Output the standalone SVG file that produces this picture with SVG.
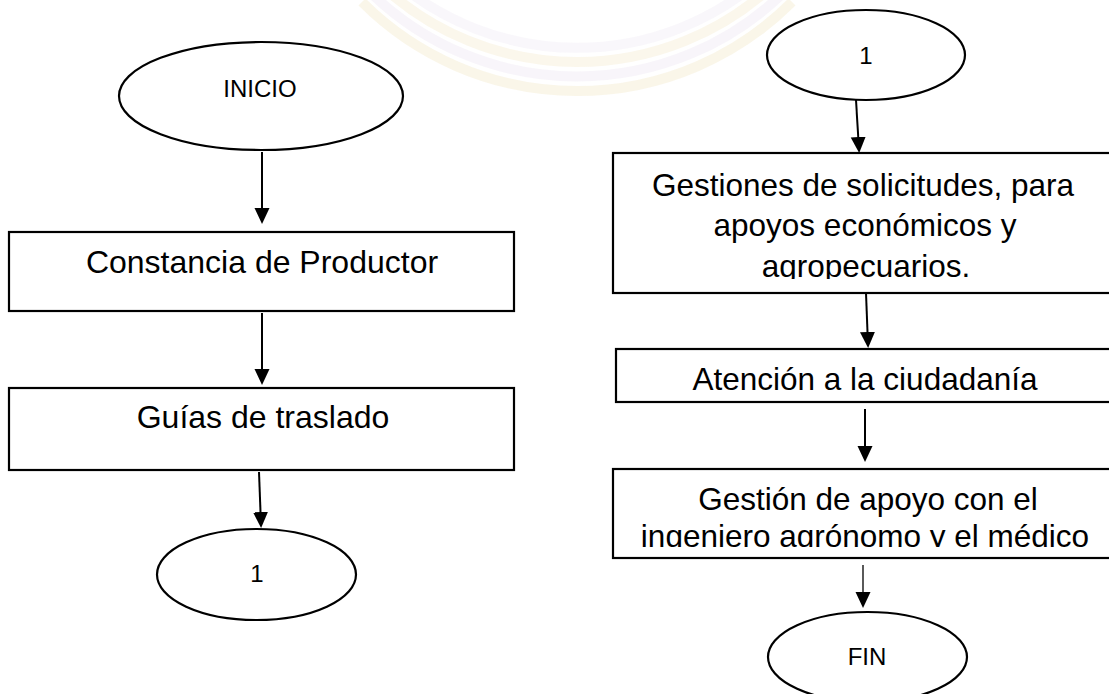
<svg xmlns="http://www.w3.org/2000/svg" width="1109" height="694" viewBox="0 0 1109 694">
<style>
.box{fill:#fff;stroke:#000;stroke-width:2.2}
.term{fill:#fff;stroke:#000;stroke-width:2.2}
.t{font-family:"Liberation Sans",Arial,sans-serif;fill:#000;text-anchor:middle}
.big{font-size:32px}
.rt{font-size:31.5px}
.sm{font-size:24px}
.conn{stroke:#000;stroke-width:2;fill:none;marker-end:url(#ah)}
.thin{stroke-width:1.3}
.wm{fill:none;stroke-width:10;opacity:0.22}
</style>
<defs>
<marker id="ah" markerUnits="userSpaceOnUse" markerWidth="16" markerHeight="16" viewBox="0 0 16 16" refX="13" refY="8" orient="auto">
<path d="M0,0.5 L16,8 L0,15.5 z" fill="#000"/>
</marker>
<clipPath id="c1"><rect x="613" y="153" width="500" height="126"/></clipPath>
<clipPath id="c2"><rect x="613" y="469" width="500" height="78"/></clipPath>
</defs>
<rect width="1109" height="694" fill="#fff"/>
<g id="watermark">
<path class="wm" d="M362,2 A304,304 0 0 0 792,2" stroke="#e8d59a"/>
<path class="wm" d="M372,-6 A296,296 0 0 0 782,-6" stroke="#ddd3ea"/>
<path class="wm" d="M382,-14 A288,288 0 0 0 772,-14" stroke="#ecdca8"/>
<path class="wm" d="M392,-22 A280,280 0 0 0 762,-22" stroke="#e3dcec"/>
</g>
<g id="connectors">
<line class="conn" x1="262" y1="152" x2="262" y2="221"/>
<line class="conn" x1="262" y1="313" x2="262" y2="382"/>
<line class="conn" x1="259" y1="472" x2="261" y2="525"/>
<line class="conn" x1="856" y1="100" x2="859" y2="150"/>
<line class="conn" x1="866" y1="293" x2="868" y2="345"/>
<line class="conn" x1="865" y1="409" x2="865" y2="459"/>
<line class="conn thin" x1="863" y1="565" x2="863" y2="605"/>
</g>
<g id="inicio">
<ellipse class="term" cx="261" cy="96" rx="142" ry="54"/>
<text class="t sm" x="260" y="97">INICIO</text>
</g>
<g id="constancia">
<rect class="box" x="9" y="232" width="505" height="79"/>
<text class="t big" x="262" y="273">Constancia de Productor</text>
</g>
<g id="guias">
<rect class="box" x="9" y="388" width="505" height="82"/>
<text class="t big" x="263" y="428">Guías de traslado</text>
</g>
<g id="conector1a">
<ellipse class="term" cx="256.5" cy="574.5" rx="99.5" ry="45.5"/>
<text class="t sm" x="257" y="582">1</text>
</g>
<g id="conector1b">
<ellipse class="term" cx="866" cy="55" rx="99" ry="45"/>
<text class="t sm" x="866" y="64">1</text>
</g>
<g id="gestiones">
<rect class="box" x="613" y="153" width="510" height="140"/>
<g clip-path="url(#c1)">
<text class="t rt" x="863" y="196">Gestiones de solicitudes, para</text>
<text class="t rt" x="865" y="236">apoyos económicos y</text>
<text class="t rt" x="866" y="277">agropecuarios.</text>
</g>
</g>
<g id="atencion">
<rect class="box" x="616" y="349" width="510" height="53"/>
<text class="t rt" x="865" y="390">Atención a la ciudadanía</text>
</g>
<g id="gestion">
<rect class="box" x="613" y="469" width="510" height="89"/>
<g clip-path="url(#c2)">
<text class="t rt" x="868" y="510">Gestión de apoyo con el</text>
<text class="t rt" x="865" y="547">ingeniero agrónomo y el médico</text>
</g>
</g>
<g id="fin">
<ellipse class="term" cx="867.5" cy="657" rx="99.5" ry="45"/>
<text class="t sm" x="867" y="665">FIN</text>
</g>
</svg>
